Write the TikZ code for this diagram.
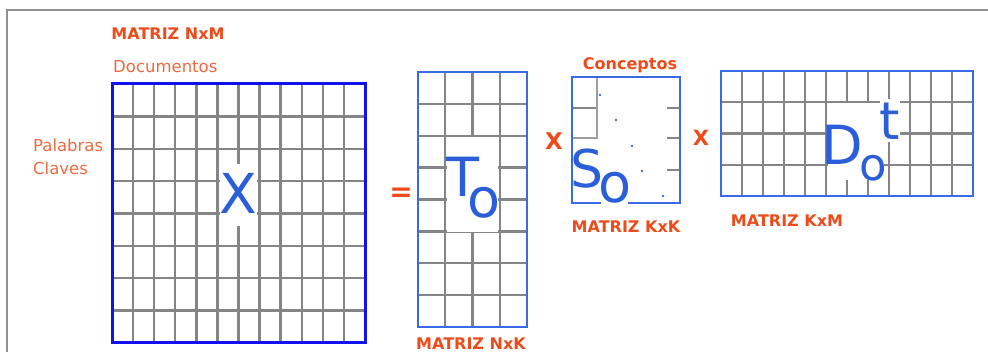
\documentclass[tikz,border=0pt]{standalone}
\usepackage{fontspec}
\setmainfont{DejaVu Sans}
\definecolor{lab}{HTML}{EE4A1A}
\definecolor{labl}{HTML}{F2683E}
\definecolor{letblue}{HTML}{2B5FD9}
\definecolor{pureblue}{HTML}{1010F0}
\definecolor{mblue}{HTML}{3A6AE8}
\definecolor{gridgray}{HTML}{858585}
\tikzset{
  gridline/.style={draw=gridgray, line width=2.4pt},
  thingrid/.style={draw=gridgray!80, line width=1.3pt},
  border/.style={draw=mblue, line width=2.8pt},
  bolab/.style={text=lab, font=\bfseries\fontsize{16}{19}\selectfont, inner sep=0pt, anchor=base},
  reglab/.style={text=labl, font=\fontsize{16.5}{19}\selectfont, inner sep=0pt, anchor=base west},
  oper/.style={text=lab, font=\bfseries\fontsize{#1}{#1}\selectfont, inner sep=0pt},
  bigletter/.style={text=letblue, font=\fontsize{#1}{#1}\selectfont, inner sep=0pt},
  blank/.style={fill=white, draw=none},
  dotmark/.style={fill=mblue, circle, inner sep=0pt, minimum size=2.6pt}
}
\begin{document}
\begin{tikzpicture}[x=1pt,y=-1pt]
\useasboundingbox (0,0) rectangle (988,352);
% outer frame
\draw[draw=gridgray!90, line width=2pt] (7,352) -- (7,10) -- (988,10);

% ---- Matrix X (N x M): 12 columns, 8 rows
\foreach \i in {1,...,11} \draw[gridline] ({112+\i*253/12},84) -- ({112+\i*253/12},343);
\foreach \j in {1,...,7} \draw[gridline] (112,{84+\j*259/8}) -- (365,{84+\j*259/8});
\draw[draw=pureblue, line width=3pt] (112,84) rectangle (365,343);
\fill[blank] (219.5,164) rectangle (257,226);
\node[bigletter=55] (X) at (238,193) {X};

% labels for X
\node[bolab] (mnxm) at (168,40) {MATRIZ NxM};
\node[reglab] (docs) at (113,73) {Documentos};
\node[reglab] (pal) at (33,152) {Palabras};
\node[reglab] (clav) at (33,175) {Claves};

% equals
\node[oper=28] (eq) at (401,195) {=};

% ---- Matrix T (N x K): 4 columns, 8 rows
\foreach \i in {1,...,3} \draw[gridline] ({418+\i*109/4},72) -- ({418+\i*109/4},327);
\foreach \j in {1,...,7} \draw[gridline] (418,{72+\j*255/8}) -- (527,{72+\j*255/8});
\draw[border] (418,72) rectangle (527,327);
\fill[blank] (447,137) rectangle (498,232);
\node[bigletter=54] (T) at (463,177) {T};
\node[bigletter=54] (To) at (484,203) {o};
\node[bolab] (mnxk) at (471,350) {MATRIZ NxK};

% times 1
\node[oper=23] (x1) at (554,141) {X};

% ---- Matrix S (K x K): mostly empty, diagonal
\draw[gridline] (572,108) -- (597,108);
\draw[thingrid] (597,77) -- (597,138) -- (572,138);
\foreach \y in {108,138,170} \draw[gridline] (667,\y) -- (680,\y);
\draw[border] (572,77) rectangle (680,203);
\foreach \p/\q in {600/95,616/120,632/146,642/171,663/196} \node[dotmark] at (\p,\q) {};
\fill[blank] (575,146) rectangle (600,192);
\fill[blank] (601,168) rectangle (628,206);
\node[bigletter=52] (S) at (587,169) {S};
\node[bigletter=54] (So) at (615,188) {o};
\node[bolab] (conc) at (630,70) {Conceptos};
\node[bolab] (mkxk) at (626,233) {MATRIZ KxK};

% times 2
\node[oper=21] (x2) at (701,138) {X};

% ---- Matrix D^t (K x M): 12 columns, 4 rows
\foreach \i in {1,...,11} \draw[gridline] ({721+\i*252/12},71) -- ({721+\i*252/12},196);
\foreach \j in {1,...,3} \draw[gridline] (721,{71+\j*125/4}) -- (973,{71+\j*125/4});
\draw[border] (721,71) rectangle (973,196);
\fill[blank] (828,103) rectangle (884,180);
\fill[blank] (880,99) rectangle (900,142);
\node[bigletter=54] (D) at (842,145) {D};
\node[bigletter=45] (Do) at (873,168) {o};
\node[bigletter=52] (Dt) at (890,121) {t};
\node[bolab] (mkxm) at (787,227) {MATRIZ KxM};
\end{tikzpicture}
\end{document}
